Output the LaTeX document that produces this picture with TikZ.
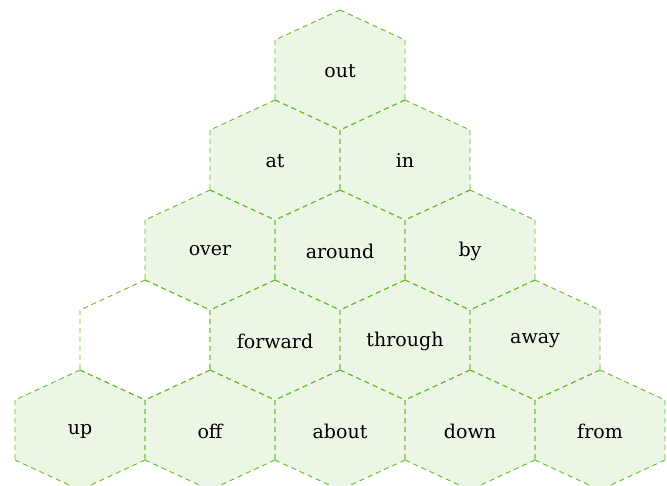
\documentclass[tikz,border=0pt]{standalone}
\usepackage{fontspec}
\setmainfont{DejaVu Serif}
\usepackage{tikz}
\definecolor{hexline}{RGB}{98,186,36}
\definecolor{hexfill}{RGB}{236,246,229}
\newcommand{\hexcorners}{(0,-60) -- (65,-30) -- (65,30) -- (0,60) -- (-65,30) -- (-65,-30) -- cycle}
% every side on its own, drawn downwards, so that shared sides dash alike
\newcommand{\hexsides}{(0,-60) -- (-65,-30) (0,-60) -- (65,-30) (-65,-30) -- (-65,30)
  (65,-30) -- (65,30) (-65,30) -- (0,60) (65,30) -- (0,60)}

\begin{document}
\begin{tikzpicture}[x=1pt,y=-1pt,
    hexedge/.style={draw=hexline,line width=0.9pt,dash pattern=on 5pt off 4pt},
    wordlabel/.style={font=\fontsize{19}{22}\selectfont,inner sep=1pt}]
  \useasboundingbox (0,0) rectangle (667,486);
  % filled cells first, then the dashed borders on top
  \foreach \cx/\cy/\w in {340/70/out, 275/160/at, 405/160/in,
      210/250/over, 340/250/around, 470/250/by,
      275/340/forward, 405/340/through, 535/340/away,
      80/430/up, 210/430/off, 340/430/about, 470/430/down, 600/430/from}
    {\fill[hexfill,shift={(\cx,\cy)}] \hexcorners;
     \node[wordlabel] (\w) at (\cx,\cy+1) {\w};}
  \foreach \cx/\cy in {340/70, 275/160, 405/160, 210/250, 340/250, 470/250,
      145/340, 275/340, 405/340, 535/340,
      80/430, 210/430, 340/430, 470/430, 600/430}
    \draw[hexedge,shift={(\cx,\cy)}] \hexsides;
\end{tikzpicture}
\end{document}
